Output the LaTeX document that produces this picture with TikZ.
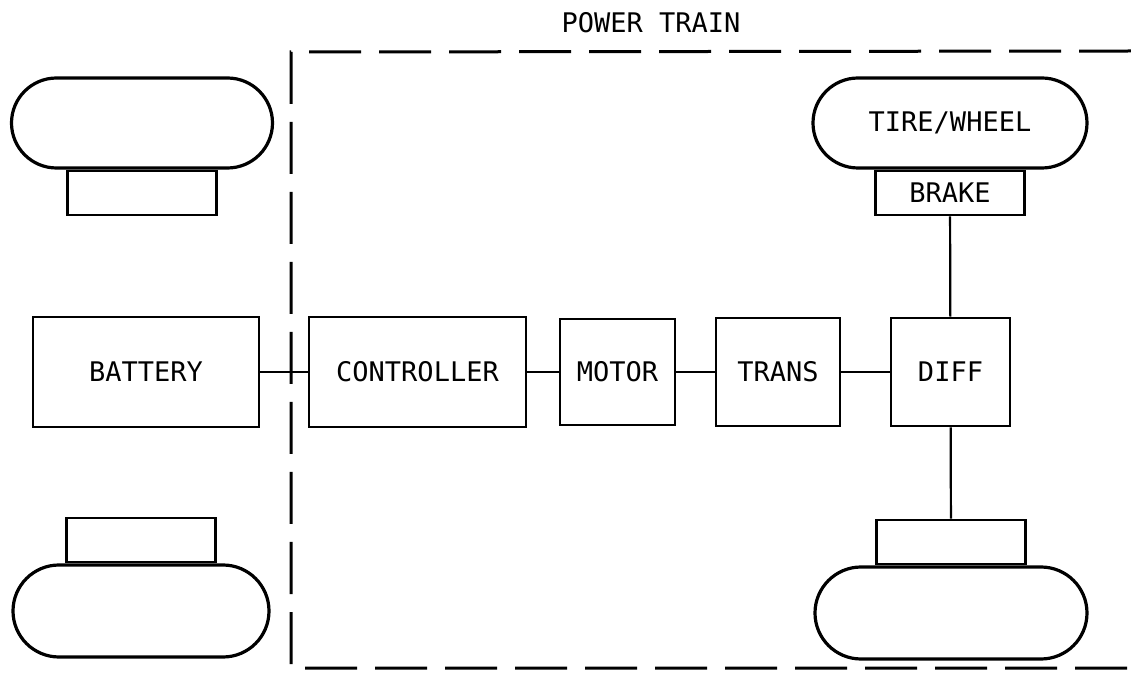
\documentclass[tikz,border=0pt]{standalone}
\usepackage{fontspec}
\newfontfamily\typefont{DejaVu Sans Mono}
\usetikzlibrary{positioning, shapes.misc}

\begin{document}
\begin{tikzpicture}[
  x=0.5pt, y=-0.5pt,
  every node/.style={font=\typefont\fontsize{13.5pt}{16pt}\selectfont},
  wheel/.style={rounded rectangle, draw, line width=1.6pt,
                minimum height=45pt, inner sep=0pt},
  brake/.style={rectangle, draw, line width=1.4pt, minimum width=74.5pt,
                minimum height=22pt, inner sep=0pt},
  unit/.style={rectangle, draw, line width=1.4pt, minimum height=55pt,
               inner sep=0pt},
  link/.style={line width=1.4pt},
  border/.style={line width=1.5pt, dash pattern=on 26pt off 9pt},
]
\useasboundingbox (0,0) rectangle (1131,684);

% ---- wheels ----
\node[wheel, minimum width=130.5pt] (tlwheel) at (142,123) {};
\node[brake, below=0pt of tlwheel] (tlbrake) {};

\node[wheel, minimum width=128pt, minimum height=46pt] (blwheel) at (141,611) {};
\node[brake, above=0pt of blwheel] (blbrake) {};

\node[wheel, minimum width=137pt] (trwheel) at (950,123) {TIRE/WHEEL};
\node[brake, below=0pt of trwheel] (trbrake) {BRAKE};

\node[wheel, minimum width=136pt, minimum height=46pt] (brwheel) at (951,613) {};
\node[brake, above=0pt of brwheel] (brbrake) {};

% ---- drive line ----
\node[unit, minimum width=113pt] (battery) at (146,372) {BATTERY};
\node[unit, minimum width=108.5pt] (controller) at (417.5,372) {CONTROLLER};
\node[unit, minimum width=57.5pt, minimum height=53pt] (motor) at (617.5,372) {MOTOR};
\node[unit, minimum width=62pt, minimum height=54pt] (trans) at (778,372) {TRANS};
\node[unit, minimum width=59.5pt, minimum height=54pt] (diff) at (950.5,372) {DIFF};

% ---- links ----
\draw[link] (battery) -- (controller);
\draw[link] (controller) -- (motor);
\draw[link] (motor) -- (trans);
\draw[link] (trans) -- (diff);
\draw[line width=1.1pt] (trbrake) -- (diff);
\draw[line width=1.1pt] (diff) -- (brbrake);

% ---- power train frame ----
\node (title) at (651,23) {POWER TRAIN};
\draw[border] (1131,51) -- (291,52) -- (291,668) -- (1131,668);

\end{tikzpicture}
\end{document}
